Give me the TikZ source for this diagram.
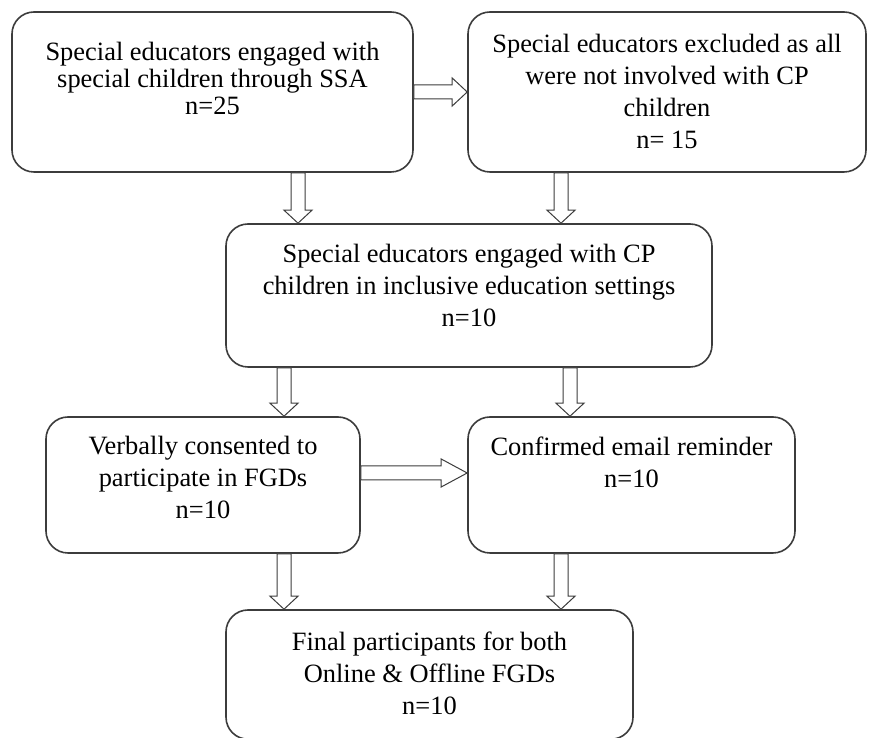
\documentclass[tikz,border=0pt]{standalone}
\usepackage{fontspec}
\setmainfont{Liberation Serif}
\usetikzlibrary{positioning, calc}
\definecolor{boxline}{HTML}{3C3C3C}

\begin{document}
\begin{tikzpicture}[
    every node/.style = {font = \fontsize{18.8}{22.8}\selectfont},
    box/.style    = {draw = boxline, line width = 0.04cm, rounded corners = 0.55cm, fill = white},
    txt/.style    = {anchor = north, align = center, inner sep = 0pt},
    barrow/.style = {draw = boxline, line width = 0.025cm, fill = white,
        to path = {let \p1 = ($(\tikztotarget)!#1!(\tikztostart)$) in
            ($(\tikztostart)!0.175cm!90:(\tikztotarget)$)
            -- ($(\p1)!0.175cm!-90:(\tikztostart)$)
            -- ($(\p1)!0.35cm!-90:(\tikztostart)$)
            -- (\tikztotarget)
            -- ($(\p1)!0.35cm!90:(\tikztostart)$)
            -- ($(\p1)!0.175cm!90:(\tikztostart)$)
            -- ($(\tikztostart)!0.175cm!-90:(\tikztotarget)$)
            -- cycle}},
    barrow/.default = 0.325cm,
]
\useasboundingbox (0,0) rectangle (21.725,18.45);

% ---------- boxes: (x, y) in cm, top to bottom ----------
\node[box, minimum width = 10.025cm, minimum height = 4.0cm]   (engaged)  at ( 5.3125, 16.15)  {};
\node[box, minimum width = 9.95cm,   minimum height = 4.0cm]   (excluded) at (16.675,  16.15)  {};
\node[box, minimum width = 12.15cm,  minimum height = 3.575cm] (cpkids)   at (11.725,  11.0625) {};
\node[box, minimum width = 7.85cm,   minimum height = 3.4cm]   (consent)  at ( 5.075,   6.325) {};
\node[box, minimum width = 8.175cm,  minimum height = 3.4cm]   (reminder) at (15.7875,  6.325) {};
\node[box, minimum width = 10.175cm, minimum height = 3.23cm]  (final)    at (10.7375,  1.585) {};

% ---------- texts ----------
\node[txt, font = \fontsize{18.8}{19.2}\selectfont] (engagedtxt) at ([yshift=-0.76cm]engaged.north)
    {Special educators engaged with\\special children through SSA\\n=25};
\node[txt] (excludedtxt) at ([yshift=-0.57cm]excluded.north)
    {Special educators excluded as all\\were not involved with CP\\children\\n= 15};
\node[txt] (cpkidstxt) at ([yshift=-0.52cm]cpkids.north)
    {Special educators engaged with CP\\children in inclusive education settings\\n=10};
\node[txt] (consenttxt) at ([yshift=-0.5cm]consent.north)
    {Verbally consented to\\participate in FGDs\\n=10};
\node[txt] (remindertxt) at ([yshift=-0.5cm]reminder.north)
    {Confirmed email reminder\\n=10};
\node[txt] (finaltxt) at ([yshift=-0.55cm]final.north)
    {Final participants for both\\Online \& Offline FGDs\\n=10};

% ---------- arrow columns ----------
\coordinate (lcolA) at ( 7.45,  0);
\coordinate (rcolB) at (14.025, 0);
\coordinate (lcolC) at ( 7.1,   0);
\coordinate (rcolC) at (14.25,  0);
\coordinate (mid)   at ( 0,     6.625);

% ---------- block arrows ----------
\draw[barrow=0.375cm] (engaged.east) to (excluded.west);
\draw[barrow] (engaged.south -| lcolA)  to (cpkids.north -| lcolA);
\draw[barrow] (excluded.south -| rcolB) to (cpkids.north -| rcolB);
\draw[barrow] (cpkids.south -| lcolC)   to (consent.north -| lcolC);
\draw[barrow] (cpkids.south -| rcolC)   to (reminder.north -| rcolC);
\draw[barrow=0.65cm] (consent.east |- mid) to (reminder.west |- mid);
\draw[barrow] (consent.south -| lcolC)  to (final.north -| lcolC);
\draw[barrow] (reminder.south -| rcolB) to (final.north -| rcolB);

\end{tikzpicture}
\end{document}
